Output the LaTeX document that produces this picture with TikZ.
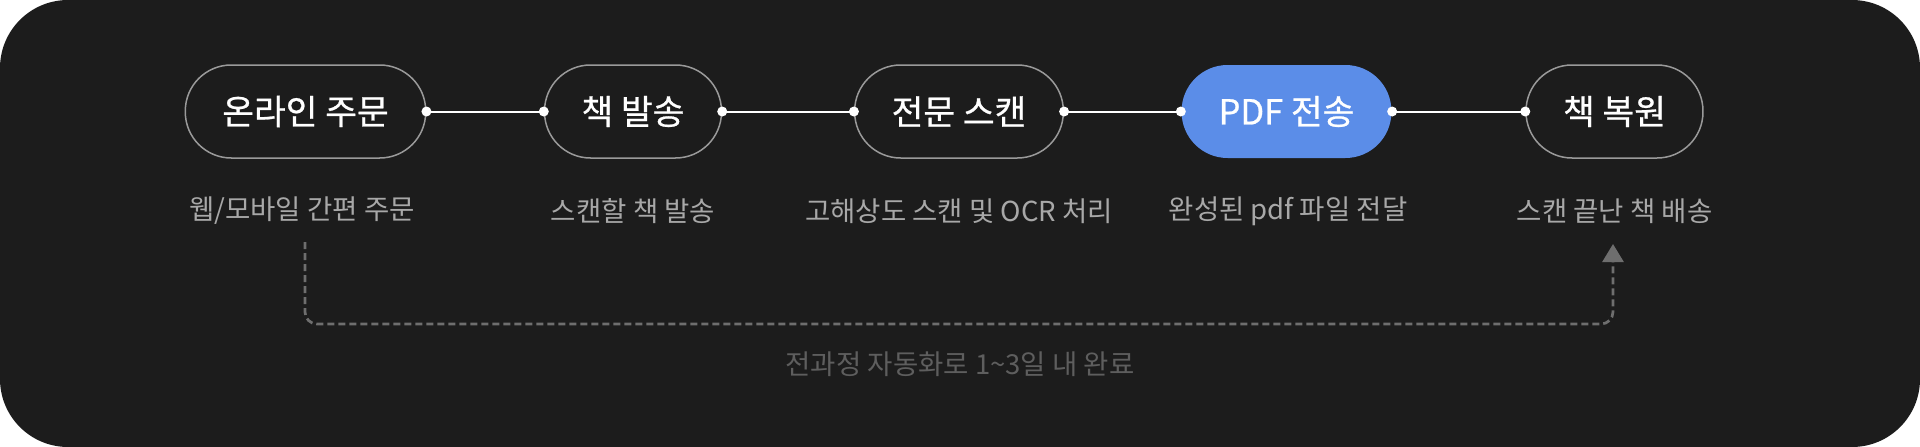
\documentclass[tikz,border=0pt]{standalone}
\usepackage{fontspec}
\setmainfont{Noto Sans CJK KR}
\newfontfamily\pillfont{Noto Sans CJK KR}[RawFeature={embolden=0.7}]
\usetikzlibrary{arrows.meta,positioning}
\definecolor{bgdark}{HTML}{1C1C1C}
\definecolor{pillline}{HTML}{9A9A9A}
\definecolor{pdfblue}{HTML}{5B8DE8}
\definecolor{notegray}{HTML}{A8A8A8}
\definecolor{loopgray}{HTML}{5E5E5E}
\tikzset{
  pill/.style={draw=pillline, line width=1.5pt, rounded corners=46pt,
    minimum height=93pt, inner xsep=37pt, text=white,
    font=\pillfont\fontsize{34.5}{40}\selectfont},
  pillblue/.style={pill, draw=none, fill=pdfblue},
  note/.style={text=notegray, inner sep=0pt, font=\fontsize{27.5}{32}\selectfont},
  link/.style={white, line width=2pt},
  port/.style={white},
  loopline/.style={loopgray!90!white, line width=2.7pt, dash pattern=on 7pt off 4pt,
    rounded corners=12pt, -{Triangle[length=18pt,width=21pt]}}
}
\begin{document}
\begin{tikzpicture}[x=1pt,y=-1pt]
    %background
    \fill[bgdark, rounded corners=68pt] (0,0) rectangle (1920,447);
    \useasboundingbox (0,0) rectangle (1920,447);

    %steps
    \node[pill] (order) at (305.5,111.5) {온라인 주문};

    \node[pill] (send) at (633,111.5) {책 발송};

    \node[pill] (scan) at (959,111.5) {전문 스캔};

    \node[pillblue] (pdf) at (1286.5,111.5) {PDF 전송};

    \node[pill] (restore) at (1614.5,111.5) {책 복원};

    %notes
    \node[note] (ordernote) at (302,211) {웹/모바일 간편 주문};

    \node[note] (sendnote) at (633,211) {스캔할 책 발송};

    \node[note] (scannote) at (959,211) {고해상도 스캔 및 OCR 처리};

    \node[note] (pdfnote) at (1288,211) {완성된 pdf 파일 전달};

    \node[note] (restorenote) at (1614.5,211) {스캔 끝난 책 배송};

    %links
    \foreach \a/\b in {order/send,send/scan,scan/pdf,pdf/restore}{
        \draw[link] (\a.east) -- (\b.west);
        \fill[port] (\a.east) circle (5pt) (\b.west) circle (5pt);
    }

    %loop
    \coordinate (loopstart) at (305,242);
    \coordinate (loopend) at (1613,244);

    \draw[loopline] (loopstart) -- ++(0,82) -| (loopend);

    \node[note, text=loopgray] (total) at (960,364) {전과정 자동화로 1\textasciitilde3일 내 완료};
\end{tikzpicture}
\end{document}
